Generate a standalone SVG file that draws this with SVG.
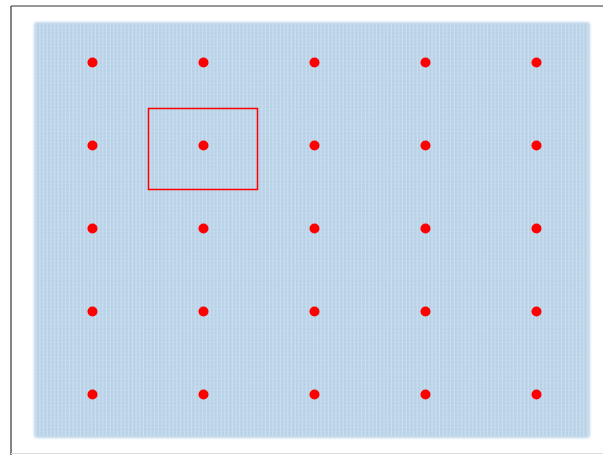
<svg xmlns="http://www.w3.org/2000/svg" width="603" height="455" viewBox="0 0 603 455">
<defs>
<style>
.dot{fill:#ff0000}
.frame{fill:none;stroke:#333;stroke-width:1.2}
</style>
<pattern id="grid" x="33" y="21" width="3.7" height="3.7" patternUnits="userSpaceOnUse">
<rect width="3.7" height="3.7" fill="#b6d1e7"/>
<rect x="2.6" y="0" width="1.1" height="3.7" fill="#cfe1ef"/>
<rect x="0" y="2.6" width="3.7" height="1.1" fill="#c6dbec" opacity="0.6"/>
</pattern>
<filter id="soft" x="-2%" y="-2%" width="104%" height="104%">
<feGaussianBlur stdDeviation="1.2"/>
</filter>
</defs>
<rect width="603" height="455" fill="#ffffff"/>
<g id="background">
<rect x="34" y="22" width="556" height="416" rx="3" fill="url(#grid)" filter="url(#soft)"/>
<rect x="36" y="24" width="552" height="412" fill="url(#grid)"/>
</g>
<g id="frame">
<line x1="11" y1="6" x2="603" y2="6" class="frame"/>
<line x1="11" y1="6" x2="11" y2="455" class="frame"/>
<line x1="11" y1="453.5" x2="603" y2="453.5" stroke="#ddd" stroke-width="1"/>
</g>
<g id="points">
<circle class="dot" cx="92.5" cy="62.5" r="5"/><circle class="dot" cx="203.5" cy="62.5" r="5"/><circle class="dot" cx="314.5" cy="62.5" r="5"/><circle class="dot" cx="425.5" cy="62.5" r="5"/><circle class="dot" cx="536.5" cy="62.5" r="5"/>
<circle class="dot" cx="92.5" cy="145.5" r="5"/><circle class="dot" cx="203.5" cy="145.5" r="5"/><circle class="dot" cx="314.5" cy="145.5" r="5"/><circle class="dot" cx="425.5" cy="145.5" r="5"/><circle class="dot" cx="536.5" cy="145.5" r="5"/>
<circle class="dot" cx="92.5" cy="228.5" r="5"/><circle class="dot" cx="203.5" cy="228.5" r="5"/><circle class="dot" cx="314.5" cy="228.5" r="5"/><circle class="dot" cx="425.5" cy="228.5" r="5"/><circle class="dot" cx="536.5" cy="228.5" r="5"/>
<circle class="dot" cx="92.5" cy="311.5" r="5"/><circle class="dot" cx="203.5" cy="311.5" r="5"/><circle class="dot" cx="314.5" cy="311.5" r="5"/><circle class="dot" cx="425.5" cy="311.5" r="5"/><circle class="dot" cx="536.5" cy="311.5" r="5"/>
<circle class="dot" cx="92.5" cy="394.5" r="5"/><circle class="dot" cx="203.5" cy="394.5" r="5"/><circle class="dot" cx="314.5" cy="394.5" r="5"/><circle class="dot" cx="425.5" cy="394.5" r="5"/><circle class="dot" cx="536.5" cy="394.5" r="5"/>
</g>
<g id="selection">
<rect x="148.5" y="108.5" width="109" height="81" fill="none" stroke="#ff0000" stroke-width="1.5"/>
</g>
</svg>
